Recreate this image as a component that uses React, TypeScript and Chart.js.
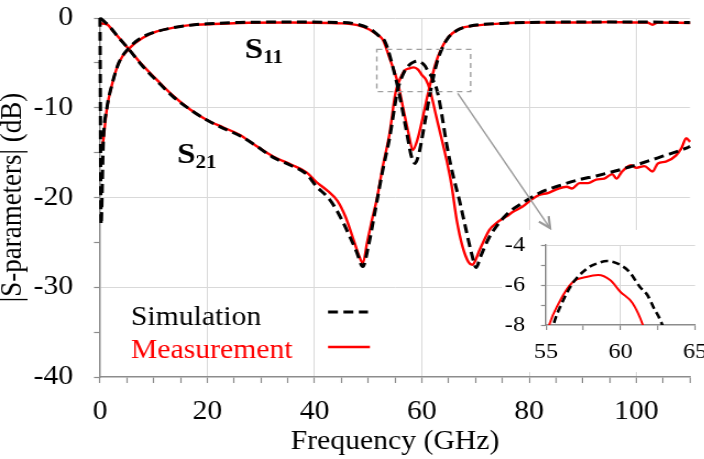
import React, { useEffect, useRef } from 'react';
import { Chart, registerables } from 'chart.js';

Chart.register(...registerables);

// [frequency (GHz), magnitude (dB)]
const s11Simulation: [number, number][] = [
  [0, 0], [0.2, -23], [0.6, -14], [1.3, -10], [2.2, -7.5], [3.5, -5], [5.6, -3.2], [8, -2.1],
  [10.6, -1.5], [13.5, -1.1], [16.8, -0.8], [20, -0.65], [26, -0.5], [35, -0.45], [45, -0.5],
  [48, -0.7], [50.3, -1.2], [52, -2], [53.1, -2.6], [54.4, -5], [55.8, -8.5], [57.1, -12.5],
  [58, -15.3], [58.7, -16.2], [59.5, -15], [60.3, -12.5], [61.2, -9.5], [62, -7], [62.8, -5],
  [63.7, -3.5], [64.8, -2.3], [66.5, -1.4], [69, -0.9], [75, -0.6], [80, -0.5], [90, -0.45],
  [100, -0.45], [110, -0.5],
];

const s21Simulation: [number, number][] = [
  [0, 0], [1, -0.5], [2, -1.1], [3.5, -2.2], [5.4, -3.5], [8, -5.4], [10.6, -7], [13.5, -8.7],
  [16.8, -10.2], [20, -11.4], [23, -12.3], [26, -13.1], [29, -14.2], [32.2, -15.5], [35.5, -16.4],
  [38.5, -17.4], [40.4, -18.8], [42.5, -20], [44.1, -21.4], [45.5, -23], [46.6, -24.4], [47.8, -26],
  [49, -27.7], [50, -25.5], [51.6, -20.5], [52.7, -17], [54, -13.3], [55.5, -8], [56.1, -6.85],
  [56.8, -5.9], [57.8, -5.15], [58.5, -4.9], [59.1, -4.8], [60, -5], [60.6, -5.35], [61.3, -6.1],
  [61.8, -6.5], [62.2, -7.1], [62.8, -8], [63.5, -10], [64.6, -14], [65.8, -17.5], [67, -20.3],
  [68.2, -23.5], [69.3, -26.3], [70.1, -27.8], [71, -26.5], [72.6, -24.4], [75.8, -21.9],
  [78.8, -20.6], [81.9, -19.5], [85, -18.8], [89.4, -18], [92.5, -17.6], [98.7, -16.6],
  [104.9, -15.4], [109.3, -14.5], [110, -14.3],
];

const s11Measurement: [number, number][] = [
  [0, -14.5], [0.5, -14], [1.3, -10], [2.2, -7.5], [3.5, -5], [5.6, -3.3], [8, -2.2], [10.6, -1.5],
  [13.5, -1.1], [16.8, -0.8], [20, -0.7], [26, -0.55], [35, -0.5], [45, -0.6], [48, -0.8],
  [50.3, -1.3], [51.5, -1.8], [52.7, -2.4], [54, -4.5], [55.5, -7.2], [56.5, -10], [57.5, -12.8],
  [58.3, -14.7], [59.2, -13.5], [60.2, -11], [61, -8.8], [61.8, -6.8], [62.6, -5], [63.5, -3.6],
  [64.5, -2.5], [65.7, -1.7], [67.5, -1.1], [70.8, -0.8], [75, -0.6], [80, -0.5], [90, -0.5],
  [95, -0.45], [100, -0.5], [102, -0.5], [103, -0.75], [104, -0.5], [110, -0.55],
];

const s21Measurement: [number, number][] = [
  [0, -0.6], [1.3, -0.7], [2.5, -1.5], [4, -2.5], [5.4, -3.5], [8, -5.3], [10.6, -6.9], [13.5, -8.6],
  [16.8, -10.2], [20, -11.4], [23, -12.2], [26, -13], [29, -14.2], [32.2, -15.4], [35.5, -16.3],
  [38.5, -17.2], [40.4, -18.3], [42.5, -19.3], [44.3, -20.4], [45.8, -22.2], [47.1, -24.4],
  [48.3, -26.5], [49, -27.3], [49.8, -25], [50.7, -22.5], [51.6, -20.2], [52.7, -16.6], [54, -12.8],
  [55.1, -8.3], [55.9, -6.85], [56.8, -5.85], [57.7, -5.6], [58.5, -5.5], [59.3, -5.75], [60, -6.35],
  [60.8, -6.9], [61.5, -8], [62.7, -11], [63.7, -13.5], [64.6, -15.8], [65.5, -18.5], [66.5, -22.5],
  [67.6, -25.5], [68.7, -27.2], [69.4, -27.5], [70.8, -25.8], [72.6, -23.6], [74, -22.8],
  [75.8, -22.1], [77, -21.6], [78.8, -21], [80.5, -20.2], [81.9, -19.7], [83.5, -19.5], [85.1, -19.1],
  [87, -18.8], [88, -19], [89.4, -18.4], [91, -18.4], [92.5, -18], [94, -17.9], [95.5, -17.4],
  [96.3, -17.9], [97.2, -17.2], [99, -16.4], [100, -16.7], [101.5, -16.5], [103, -17.1], [104, -16.2],
  [105.5, -16], [107.4, -15.3], [108.4, -14.5], [109.3, -13.4], [110, -13.8],
];

const seriesLabels = ['Simulation', 'Measurement'];
const xTitle = 'Frequency (GHz)';
const yTitle = '|S-parameters| (dB)';

const freqRange = [0, 110];
const dbRange = [-40, 0];
const insetFreqRange = [55, 65];
const insetDbRange = [-8, -4];

// highlighted region and the pointer to the enlarged view (data units)
const zoomBoxFreq = [51.6, 69.1];
const zoomBoxDb = [-3.5, -8.2];
const arrowFrom = [66.7, -8.4];
const arrowTo = [83.9, -23.4];

// curve name labels: [text, subscript, frequency, dB]
const curveNames: [string, string, number, number][] = [
  ['S', '11', 27.0, -4.46],
  ['S', '21', 14.4, -16.2],
];

const SX = 1.1; // canvases are drawn narrow and widened by this factor
const FONT = '"Liberation Serif", "Times New Roman", Times, serif';
const GRID = '#d9d9d9';
const AXIS = '#8c8c8c';
const RED = '#ff0000';

const MAIN_W = 640;
const MAIN_H = 459;
const INSET_W = 200;
const INSET_H = 142;

const pts = (a: [number, number][]) => a.map(([x, y]) => ({ x, y }));

// keep tick-label overhang from pushing the plot area around
const noScalePadding = (s: any) => {
  s.paddingTop = 0;
  s.paddingBottom = 0;
  s.paddingLeft = 0;
  s.paddingRight = 0;
};

const simStyle = {
  borderColor: '#000',
  borderWidth: 3,
  borderDash: [9, 5],
  pointRadius: 0,
  cubicInterpolationMode: 'monotone' as const,
  fill: false,
};
const measStyle = {
  borderColor: RED,
  borderWidth: 2.4,
  pointRadius: 0,
  cubicInterpolationMode: 'monotone' as const,
  fill: false,
};

const mainDecor = {
  id: 'mainDecor',
  afterDatasetsDraw(chart: any) {
    const { ctx, chartArea: ca } = chart;
    const x = chart.scales.x;
    const y = chart.scales.y;
    ctx.save();

    // dashed box around the pass band peak
    ctx.strokeStyle = '#a0a0a0';
    ctx.lineWidth = 1.4;
    ctx.setLineDash([5, 4]);
    const bx0 = x.getPixelForValue(zoomBoxFreq[0]);
    const bx1 = x.getPixelForValue(zoomBoxFreq[1]);
    const by0 = y.getPixelForValue(zoomBoxDb[0]);
    const by1 = y.getPixelForValue(zoomBoxDb[1]);
    ctx.strokeRect(bx0, by0, bx1 - bx0, by1 - by0);

    // arrow to the enlarged view
    ctx.setLineDash([]);
    ctx.strokeStyle = '#9a9a9a';
    const ax0 = x.getPixelForValue(arrowFrom[0]);
    const ay0 = y.getPixelForValue(arrowFrom[1]);
    const ax1 = x.getPixelForValue(arrowTo[0]);
    const ay1 = y.getPixelForValue(arrowTo[1]);
    ctx.lineWidth = 1.4;
    ctx.beginPath();
    ctx.moveTo(ax0, ay0);
    ctx.lineTo(ax1, ay1);
    ctx.stroke();
    const ang = Math.atan2(ay1 - ay0, ax1 - ax0);
    const hl = 12;
    ctx.lineWidth = 2.2;
    ctx.beginPath();
    ctx.moveTo(ax1 - hl * Math.cos(ang - 0.45), ay1 - hl * Math.sin(ang - 0.45));
    ctx.lineTo(ax1, ay1);
    ctx.lineTo(ax1 - hl * Math.cos(ang + 0.45), ay1 - hl * Math.sin(ang + 0.45));
    ctx.stroke();

    // S11 / S21 names
    ctx.fillStyle = '#000';
    ctx.textAlign = 'left';
    ctx.textBaseline = 'alphabetic';
    for (const [main, sub, f, db] of curveNames) {
      const px = x.getPixelForValue(f);
      const py = y.getPixelForValue(db);
      ctx.font = `bold 30px ${FONT}`;
      ctx.fillText(main, px, py);
      const w = ctx.measureText(main).width;
      ctx.font = `bold 19px ${FONT}`;
      ctx.fillText(sub, px + w, py + 5);
    }

    // legend: text followed by the line sample
    const sim = chart.data.datasets[0];
    const meas = chart.data.datasets[2];
    const lx = ca.left + 28.2;
    ctx.font = `27px ${FONT}`;
    ctx.fillStyle = sim.borderColor;
    ctx.fillText(sim.label, lx, ca.top + 307);
    ctx.fillStyle = meas.borderColor;
    ctx.fillText(meas.label, lx, ca.top + 340);

    ctx.lineCap = 'butt';
    ctx.strokeStyle = sim.borderColor;
    ctx.lineWidth = sim.borderWidth;
    ctx.setLineDash([9, 5]);
    ctx.beginPath();
    ctx.moveTo(ca.left + 207.3, ca.top + 294);
    ctx.lineTo(ca.left + 243.6, ca.top + 294);
    ctx.stroke();
    ctx.setLineDash([]);
    ctx.strokeStyle = meas.borderColor;
    ctx.lineWidth = meas.borderWidth;
    ctx.beginPath();
    ctx.moveTo(ca.left + 207.3, ca.top + 329);
    ctx.lineTo(ca.left + 245.4, ca.top + 329);
    ctx.stroke();

    ctx.restore();
  },
};

const whiteBackground = {
  id: 'whiteBackground',
  beforeDraw(chart: any) {
    const { ctx, width, height } = chart;
    ctx.save();
    ctx.fillStyle = '#fff';
    ctx.fillRect(0, 0, width, height);
    ctx.restore();
  },
};

function mainConfig(): any {
  return {
    type: 'line',
    data: {
      datasets: [
        { label: seriesLabels[0], data: pts(s11Simulation), ...simStyle, clip: 6 },
        { label: seriesLabels[0], data: pts(s21Simulation), ...simStyle, clip: 6 },
        { label: seriesLabels[1], data: pts(s11Measurement), ...measStyle, clip: 6 },
        { label: seriesLabels[1], data: pts(s21Measurement), ...measStyle, clip: 6 },
      ],
    },
    options: {
      responsive: false,
      animation: false,
      events: [],
      layout: { autoPadding: false, padding: { left: 0, top: 18, right: MAIN_W - 627.3, bottom: 0 } },
      plugins: { legend: { display: false }, tooltip: { enabled: false } },
      scales: {
        x: {
          type: 'linear',
          min: freqRange[0],
          max: freqRange[1],
          afterFit: (s: any) => { s.height = 82; noScalePadding(s); },
          ticks: {
            stepSize: 5,
            autoSkip: false,
            maxRotation: 0,
            padding: 13,
            color: '#000',
            font: { family: FONT, size: 27 },
            callback: (v: number) => (v % 20 === 0 ? String(v) : ''),
          },
          grid: {
            color: (c: any) => {
              const v = c.tick ? c.tick.value : 0;
              return v % 20 === 0 && v > 0 && v < 110 ? GRID : 'rgba(0,0,0,0)';
            },
            lineWidth: 1,
            tickColor: AXIS,
            tickLength: 6,
            tickWidth: 1.2,
          },
          border: { display: true, color: AXIS, width: 1.5 },
          title: {
            display: true,
            text: xTitle,
            color: '#000',
            font: { family: FONT, size: 27 },
            padding: { top: 0, bottom: 1 },
          },
        },
        y: {
          type: 'linear',
          min: dbRange[0],
          max: dbRange[1],
          afterFit: (s: any) => { s.width = 90.9; noScalePadding(s); },
          ticks: {
            stepSize: 5,
            autoSkip: false,
            padding: 19,
            color: '#000',
            font: { family: FONT, size: 27 },
            callback: (v: number) => (v % 10 === 0 ? String(v) : ''),
          },
          grid: {
            color: (c: any) => {
              const v = c.tick ? c.tick.value : -40;
              return v % 10 === 0 && v > -40 ? GRID : 'rgba(0,0,0,0)';
            },
            lineWidth: 1,
            tickColor: AXIS,
            tickLength: 5.5,
            tickWidth: 1.2,
          },
          border: { display: true, color: AXIS, width: 1.5 },
          title: {
            display: true,
            text: yTitle,
            color: '#000',
            font: { family: FONT, size: 27, lineHeight: 0.87 },
            padding: 0,
          },
        },
      },
    },
    plugins: [mainDecor],
  };
}

function insetConfig(): any {
  return {
    type: 'line',
    data: {
      datasets: [
        { label: seriesLabels[0], data: pts(s21Simulation), ...simStyle, borderWidth: 2.6, borderDash: [7, 4] },
        { label: seriesLabels[1], data: pts(s21Measurement), ...measStyle, borderWidth: 2 },
      ],
    },
    options: {
      responsive: false,
      animation: false,
      events: [],
      layout: { autoPadding: false, padding: { left: 0, top: 15, right: INSET_W - 175.5, bottom: 0 } },
      plugins: { legend: { display: false }, tooltip: { enabled: false } },
      scales: {
        x: {
          type: 'linear',
          min: insetFreqRange[0],
          max: insetFreqRange[1],
          afterFit: (s: any) => { s.height = INSET_H - 95; noScalePadding(s); },
          ticks: {
            stepSize: 2.5,
            autoSkip: false,
            maxRotation: 0,
            padding: 8.8,
            color: '#000',
            font: { family: FONT, size: 22 },
            callback: (v: number) => (v % 5 === 0 ? String(v) : ''),
          },
          grid: {
            color: (c: any) => {
              const v = c.tick ? c.tick.value : 55;
              return v === 60 ? GRID : 'rgba(0,0,0,0)';
            },
            lineWidth: 1,
            tickColor: AXIS,
            tickLength: 5,
            tickWidth: 1.2,
          },
          border: { display: true, color: AXIS, width: 1.4 },
        },
        y: {
          type: 'linear',
          min: insetDbRange[0],
          max: insetDbRange[1],
          afterFit: (s: any) => { s.width = 40; noScalePadding(s); },
          ticks: {
            stepSize: 1,
            autoSkip: false,
            padding: 14.6,
            color: '#000',
            font: { family: FONT, size: 22 },
            callback: (v: number) => (v % 2 === 0 ? String(v) : ''),
          },
          grid: {
            color: (c: any) => {
              const v = c.tick ? c.tick.value : -8;
              return v === -6 || v === -4 ? GRID : 'rgba(0,0,0,0)';
            },
            lineWidth: 1,
            tickColor: AXIS,
            tickLength: 4.5,
            tickWidth: 1.2,
          },
          border: { display: true, color: AXIS, width: 1.4 },
        },
      },
    },
    plugins: [whiteBackground],
  };
}

export default function App() {
  const mainRef = useRef<HTMLCanvasElement>(null);
  const insetRef = useRef<HTMLCanvasElement>(null);

  useEffect(() => {
    const main = new Chart(mainRef.current as HTMLCanvasElement, mainConfig());
    const inset = new Chart(insetRef.current as HTMLCanvasElement, insetConfig());
    return () => {
      main.destroy();
      inset.destroy();
    };
  }, []);

  return (
    <div
      style={{
        position: 'absolute',
        left: 0,
        top: 0,
        width: 704,
        height: 459,
        overflow: 'hidden',
        background: '#fff',
      }}
    >
      <canvas
        ref={mainRef}
        width={MAIN_W}
        height={MAIN_H}
        style={{ position: 'absolute', left: 0, top: 0, width: MAIN_W * SX, height: MAIN_H }}
      />
      <canvas
        ref={insetRef}
        width={INSET_W}
        height={INSET_H}
        style={{ position: 'absolute', left: 502, top: 230, width: INSET_W * SX, height: INSET_H }}
      />
    </div>
  );
}
